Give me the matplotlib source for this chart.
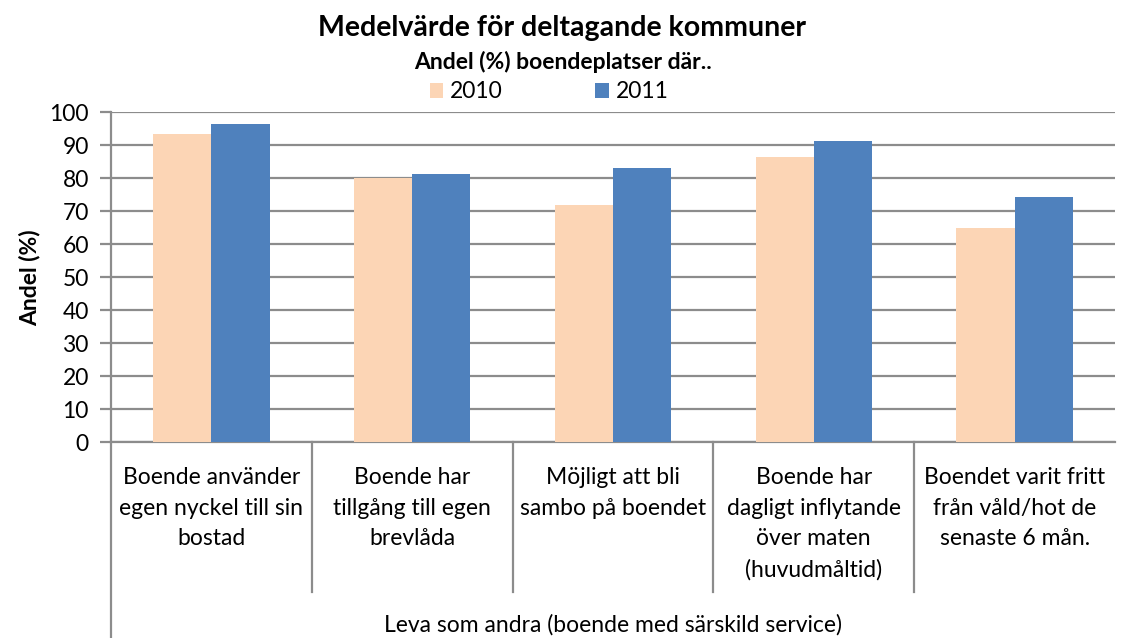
import matplotlib.pyplot as plt
import matplotlib.transforms as mtransforms
import numpy as np

plt.rcParams['font.family'] = ['Lato', 'DejaVu Sans']

categories = [
    "Boende använder\negen nyckel till sin\nbostad",
    "Boende har\ntillgång till egen\nbrevlåda",
    "Möjligt att bli\nsambo på boendet",
    "Boende har\ndagligt inflytande\növer maten\n(huvudmåltid)",
    "Boendet varit fritt\nfrån våld/hot de\nsenaste 6 mån.",
]
group_label = "Leva som andra (boende med särskild service)"
v2010 = [93.4, 80.0, 72.0, 86.5, 64.8]
v2011 = [96.5, 81.2, 83.0, 91.2, 74.3]

c2010 = "#FCD5B5"
c2011 = "#4F81BD"
grid_c = "#8C8C8C"

fig = plt.figure(figsize=(11.25, 6.38), dpi=100)
ax = fig.add_axes([111/1125, 1-442.3/638, (1115-111)/1125, 330/638])

x = np.arange(1, len(categories)+1)
w = 0.29
ax.bar(x - w/2, v2010, w, color=c2010, label="2010", zorder=3)
ax.bar(x + w/2, v2011, w, color=c2011, label="2011", zorder=3)

ax.set_xlim(0.5, len(categories)+0.5)
ax.set_ylim(0, 100)
ax.set_yticks(range(0, 101, 10))
ax.yaxis.grid(True, color=grid_c, lw=1.6, zorder=0)
ax.set_xticks([])
for s in ["top", "right"]:
    ax.spines[s].set_visible(False)
for s in ["left", "bottom"]:
    ax.spines[s].set_color(grid_c)
    ax.spines[s].set_linewidth(1.6)
ax.tick_params(axis="y", length=8, width=1.6, color=grid_c, labelsize=16.5, pad=8)
ax.set_ylabel("Andel (%)", fontsize=16.5, fontweight="bold", labelpad=6)

# category labels and separators below axis
trans = mtransforms.blended_transform_factory(ax.transData, ax.transAxes)
for i, lab in enumerate(categories):
    ax.text(x[i], -0.075, lab, transform=trans, ha="center", va="top",
            fontsize=16.5, linespacing=1.56)
for b in np.arange(1.5, len(categories), 1.0):
    ax.plot([b, b], [0, -0.455], transform=trans, color=grid_c, lw=1.6, clip_on=False)
ax.plot([0.5, 0.5], [0, -0.6], transform=trans, color=grid_c, lw=1.6, clip_on=False)
ax.text(np.mean(x), -0.553, group_label, transform=trans, ha="center", va="center",
        fontsize=16.5)

fig.text(0.5, 1-28/638, "Medelvärde för deltagande kommuner", ha="center", va="center",
         fontsize=20.5, fontweight="bold")
fig.text(0.5, 1-62/638, "Andel (%) boendeplatser där..", ha="center", va="center",
         fontsize=16.5, fontweight="bold")
fig.legend(loc="center", bbox_to_anchor=(0.488, 1-92/638), ncol=2, frameon=False,
           fontsize=16.5, handlelength=0.6, handleheight=0.6, handletextpad=0.3,
           columnspacing=4.0, borderpad=0)

fig.savefig("out.png", dpi=100)
